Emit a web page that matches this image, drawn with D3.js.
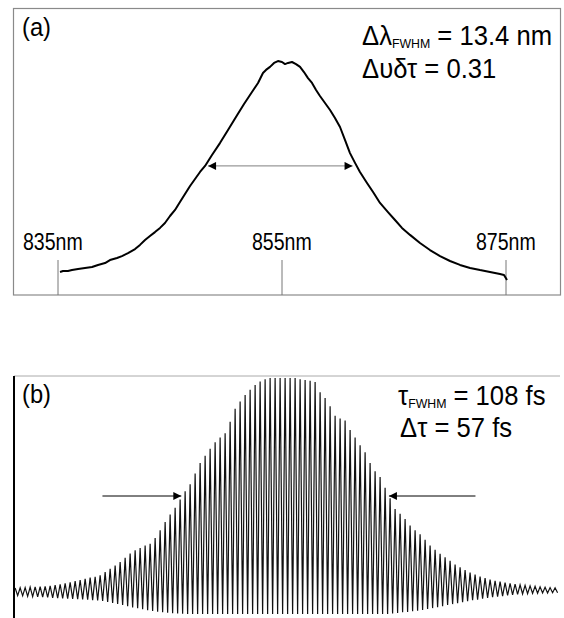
<!DOCTYPE html>
<html>
<head>
<meta charset="utf-8">
<script src="https://cdn.jsdelivr.net/npm/d3@7/dist/d3.min.js"></script>
<style>
  body { margin: 0; background: #fff; }
  svg { display: block; font-family: 'Liberation Sans', Arial, sans-serif; }
</style>
</head>
<body>
<svg id="chart" width="564" height="618"></svg>
<script>
// (a) spectrum, wavelength in nm and intensity normalised to the peak
const wavelength = [
  835.18, 835.45, 835.89, 836.25, 836.79, 837.41, 838.04, 838.57, 839.20, 839.64,
  840.27, 840.71, 841.25, 841.88, 842.32, 842.77, 843.21, 843.66, 844.11, 844.55,
  845.00, 845.45, 845.89, 846.79, 847.68, 848.13, 848.75, 849.46, 850.18, 850.89,
  851.61, 852.32, 852.86, 853.30, 853.57, 853.93, 854.29, 854.64, 855.00, 855.27,
  855.54, 855.89, 856.25, 856.61, 856.96, 857.32, 857.68, 858.04, 858.39, 858.84,
  859.29, 859.73, 860.18, 860.63, 861.07, 861.52, 861.96, 862.59, 863.13, 863.75,
  864.46, 865.09, 865.71, 866.43, 867.32, 868.21, 869.11, 870.00, 870.89, 871.79,
  872.68, 873.57, 874.46, 874.82, 875.09
];
const intensity = [
  0.099, 0.103, 0.103, 0.107, 0.112, 0.116, 0.120, 0.129, 0.137, 0.150,
  0.159, 0.167, 0.180, 0.197, 0.215, 0.236, 0.253, 0.270, 0.288, 0.309,
  0.339, 0.365, 0.399, 0.468, 0.528, 0.554, 0.601, 0.652, 0.708, 0.764,
  0.820, 0.871, 0.910, 0.953, 0.966, 0.979, 0.996, 1.004, 1.000, 0.991,
  0.996, 1.000, 0.991, 0.979, 0.957, 0.931, 0.910, 0.880, 0.854, 0.824,
  0.794, 0.760, 0.721, 0.665, 0.609, 0.567, 0.528, 0.481, 0.442, 0.395,
  0.356, 0.322, 0.288, 0.258, 0.223, 0.193, 0.167, 0.146, 0.129, 0.116,
  0.107, 0.099, 0.090, 0.086, 0.064
];
const wlTicks = [835, 855, 875];
const specFwhm = [848.4, 861.3];
const specHalf = 0.554;

// (b) interferometric autocorrelation: one upper and one lower turning point per fringe
const fringePeriod = 2.6; // fs
const centreFringe = 54;
const fringeTop = [
  1.10, 1.11, 1.12, 1.14, 1.15, 1.16, 1.17, 1.19, 1.22, 1.26,
  1.30, 1.34, 1.39, 1.44, 1.49, 1.54, 1.58, 1.64, 1.78, 1.92,
  2.05, 2.20, 2.38, 2.56, 2.70, 2.80, 2.90, 2.98, 3.22, 3.55,
  3.90, 4.22, 4.50, 4.85, 5.20, 5.50, 5.95, 6.40, 6.70, 7.00,
  7.28, 7.48, 7.66, 8.15, 8.70, 9.00, 9.28, 9.50, 9.70, 9.85,
  9.95, 10.0, 10.0, 10.0, 10.0, 10.0, 10.0, 9.95, 9.92, 9.88,
  9.83, 9.40, 9.15, 8.80, 8.40, 8.28, 8.20, 7.80, 7.48, 7.15,
  6.85, 6.40, 6.05, 5.80, 5.35, 4.90, 4.45, 4.25, 4.02, 3.75,
  3.55, 3.38, 3.15, 2.90, 2.72, 2.55, 2.40, 2.25, 2.10, 1.98,
  1.86, 1.76, 1.67, 1.59, 1.52, 1.46, 1.41, 1.37, 1.33, 1.30,
  1.27, 1.24, 1.21, 1.19, 1.17, 1.15, 1.13, 1.12, 1.11
];
const fringeBottom = [
  0.78, 0.77, 0.75, 0.74, 0.73, 0.72, 0.70, 0.68, 0.67, 0.66,
  0.65, 0.64, 0.63, 0.62, 0.61, 0.59, 0.57, 0.55, 0.51, 0.47,
  0.43, 0.38, 0.33, 0.28, 0.24, 0.20, 0.16, 0.13, 0.10, 0.07,
  0.05, 0.03, 0.02, 0.01, 0.00, 0.00, 0.00, 0.00, 0.00, 0.00,
  0.00, 0.00, 0.00, 0.00, 0.00, 0.00, 0.00, 0.00, 0.00, 0.00,
  0.00, 0.00, 0.00, 0.00, 0.00, 0.00, 0.00, 0.00, 0.00, 0.00,
  0.00, 0.00, 0.00, 0.00, 0.00, 0.00, 0.00, 0.00, 0.00, 0.00,
  0.00, 0.00, 0.00, 0.00, 0.00, 0.02, 0.04, 0.07, 0.09, 0.12,
  0.14, 0.17, 0.21, 0.25, 0.29, 0.33, 0.38, 0.42, 0.46, 0.50,
  0.54, 0.58, 0.61, 0.65, 0.68, 0.71, 0.74, 0.76, 0.79, 0.81,
  0.83, 0.85, 0.86, 0.87, 0.88, 0.89, 0.89, 0.90, 0.90
];
const acFwhm = [-54, 54];
const acArrowTail = [-95, 99];
const acHalf = 5.0;

const svg = d3.select('#chart');

// arrow heads
const defs = svg.append('defs');
defs.append('marker')
  .attr('id', 'head')
  .attr('viewBox', '0 0 10 10')
  .attr('refX', 10)
  .attr('refY', 5)
  .attr('markerUnits', 'userSpaceOnUse')
  .attr('markerWidth', 11)
  .attr('markerHeight', 8)
  .attr('orient', 'auto-start-reverse')
  .append('path')
  .attr('d', 'M0,0L10,5L0,10Z')
  .attr('fill', '#000');

// text with the squeezed look of the scanned figure
function label(x, y, size, parts, squeeze = 0.95) {
  const t = svg.append('g')
    .attr('transform', `translate(${x},${y}) scale(${squeeze},1)`)
    .append('text')
    .attr('font-size', size)
    .attr('fill', '#000');
  parts.forEach((p) => {
    const s = t.append('tspan').text(p.text);
    if (p.sub) s.attr('font-size', size * 0.48).attr('dy', 3);
    if (p.after) s.attr('dy', -3);
  });
  return t;
}

/* ---------- panel (a) ---------- */
const xA = d3.scaleLinear().domain([835, 875]).range([58, 506]);
const yA = d3.scaleLinear().domain([0, 1]).range([295, 62]);

svg.append('rect')
  .attr('x', 13.5).attr('y', 8.5)
  .attr('width', 547).attr('height', 286.5)
  .attr('fill', 'none')
  .attr('stroke', '#8a8a8a')
  .attr('stroke-width', 1.2);

svg.selectAll('.wltick')
  .data(wlTicks)
  .enter().append('line')
  .attr('class', 'wltick')
  .attr('x1', d => xA(d)).attr('x2', d => xA(d))
  .attr('y1', 260).attr('y2', 295)
  .attr('stroke', '#777')
  .attr('stroke-width', 1);

wlTicks.forEach((d, i) => {
  label(xA(d) - 30 - (i === 0 ? 5 : 0), 250, 23, [{ text: `${d}nm` }], 0.85);
});

const spec = wavelength.map((w, i) => [w, intensity[i]]);
svg.append('path')
  .datum(spec)
  .attr('d', d3.line().x(d => xA(d[0])).y(d => yA(d[1])))
  .attr('fill', 'none')
  .attr('stroke', '#000')
  .attr('stroke-width', 2)
  .attr('stroke-linejoin', 'round');

svg.append('line')
  .attr('x1', xA(specFwhm[0])).attr('x2', xA(specFwhm[1]))
  .attr('y1', yA(specHalf)).attr('y2', yA(specHalf))
  .attr('stroke', '#999')
  .attr('stroke-width', 1.3)
  .attr('marker-start', 'url(#head)')
  .attr('marker-end', 'url(#head)');

label(22, 36, 25, [{ text: '(a)' }]);
label(362, 45, 27, [{ text: 'Δλ' }, { text: 'FWHM', sub: true }, { text: ' = 13.4 nm', after: true }]);
label(362, 78, 27, [{ text: 'Δυδτ = 0.31' }]);

/* ---------- panel (b) ---------- */
const xB = d3.scaleLinear().domain([-141, 141.4]).range([14, 557]);
const yB = d3.scaleLinear().domain([0, 10]).range([614, 378]);

const fringeDelay = fringeTop.map((_, i) => (i - centreFringe) * fringePeriod);
const trace = [];
fringeTop.forEach((top, i) => {
  trace.push([fringeDelay[i], top]);
  trace.push([fringeDelay[i] + fringePeriod / 2, fringeBottom[i]]);
});

svg.append('line')
  .attr('x1', 14).attr('x2', 560)
  .attr('y1', 376).attr('y2', 376)
  .attr('stroke', '#aaa')
  .attr('stroke-width', 1);

svg.append('line')
  .attr('x1', 14).attr('x2', 14)
  .attr('y1', 376).attr('y2', 618)
  .attr('stroke', '#000')
  .attr('stroke-width', 2);

svg.append('path')
  .datum(trace)
  .attr('d', d3.line().x(d => xB(d[0])).y(d => yB(d[1])))
  .attr('fill', 'none')
  .attr('stroke', '#111')
  .attr('stroke-width', 1.2);

[0, 1].forEach((k) => {
  svg.append('line')
    .attr('x1', xB(acArrowTail[k])).attr('x2', xB(acFwhm[k]))
    .attr('y1', yB(acHalf)).attr('y2', yB(acHalf))
    .attr('stroke', '#000')
    .attr('stroke-width', 1)
    .attr('marker-end', 'url(#head)');
});

label(22, 403, 25, [{ text: '(b)' }]);
label(398, 405, 27, [{ text: 'τ' }, { text: 'FWHM', sub: true }, { text: ' = 108 fs', after: true }]);
label(400, 437, 27, [{ text: 'Δτ = 57 fs' }]);
</script>
</body>
</html>
